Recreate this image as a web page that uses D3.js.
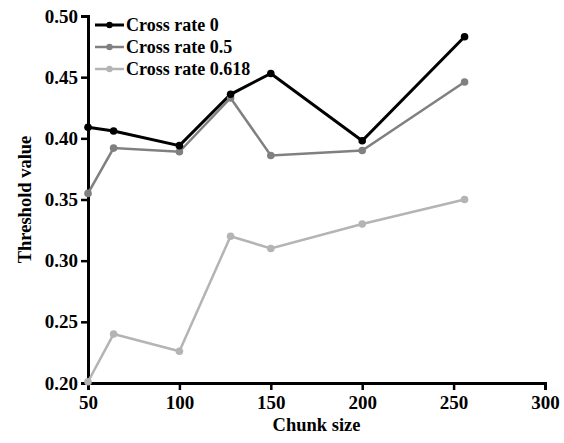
<!DOCTYPE html>
<html>
<head>
<meta charset="utf-8">
<script src="https://cdn.jsdelivr.net/npm/d3@7"></script>
<style>
  body { margin: 0; background: #fff; }
</style>
</head>
<body>
<div id="chart"></div>
<script>
// chunk sizes on the x axis
const chunkSizes = [50, 64, 100, 128, 150, 200, 256];

// threshold values per cross rate
const rate0 = [0.409, 0.406, 0.394, 0.436, 0.453, 0.398, 0.483];
const rate05 = [0.355, 0.392, 0.389, 0.433, 0.386, 0.390, 0.446];
const rate0618 = [0.201, 0.240, 0.226, 0.320, 0.310, 0.330, 0.350];

const seriesNames = ["Cross rate 0", "Cross rate 0.5", "Cross rate 0.618"];
const seriesColors = ["#000000", "#808080", "#b4b4b4"];

const xTicks = [50, 100, 150, 200, 250, 300];
const yTicks = [0.20, 0.25, 0.30, 0.35, 0.40, 0.45, 0.50];

const series = [rate0, rate05, rate0618].map((vals, i) => ({
    name: seriesNames[i],
    color: seriesColors[i],
    points: vals.map((v, j) => ({ x: chunkSizes[j], y: v }))
}));

const width = 564, height = 443;
const margin = { left: 88, right: 19, top: 16, bottom: 60 };
const fontFam = "'Liberation Serif'";

// helper so every text gets the same look
function styleText(sel, size) {
    return sel.style("font-family", fontFam)
        .style("font-weight", "bold")
        .style("font-size", size + "px")
        .attr("fill", "#000");
}

const svg = d3.select("#chart").append("svg")
    .attr("width", width).attr("height", height);

const x = d3.scaleLinear().domain([50, 300]).range([margin.left, width - margin.right]);
const y = d3.scaleLinear().domain([0.20, 0.50]).range([height - margin.bottom, margin.top]);

// axes
const xAxis = svg.append("g")
    .attr("transform", `translate(0,${height - margin.bottom})`)
    .call(d3.axisBottom(x).tickValues(xTicks).tickSize(7).tickPadding(6).tickFormat(d3.format("d")));

const yAxis = svg.append("g")
    .attr("transform", `translate(${margin.left},0)`)
    .call(d3.axisLeft(y).tickValues(yTicks).tickSize(7).tickPadding(3).tickFormat(d3.format(".2f")));

[xAxis, yAxis].forEach(g => {
    g.select(".domain").attr("stroke", "#000").attr("stroke-width", 3);
    g.selectAll(".tick line").attr("stroke", "#000").attr("stroke-width", 2.5);
    styleText(g.selectAll(".tick text"), 19);
});

// axis titles
styleText(svg.append("text"), 18.5)
    .attr("x", (margin.left + width - margin.right) / 2)
    .attr("y", 431)
    .attr("text-anchor", "middle")
    .text("Chunk size");

styleText(svg.append("text"), 18.5)
    .attr("transform", `translate(31,${(margin.top + height - margin.bottom) / 2}) rotate(-90)`)
    .attr("text-anchor", "middle")
    .text("Threshold value");

const line = d3.line().x(d => x(d.x)).y(d => y(d.y));

// draw lighter series first so black sits on top
const drawOrder = series.slice().reverse();

svg.selectAll(".series")
    .data(drawOrder)
    .join("path")
    .attr("class", "series")
    .attr("fill", "none")
    .attr("stroke", d => d.color)
    .attr("stroke-width", (d, i) => i === 2 ? 3 : 2.5)
    .attr("d", d => line(d.points));

svg.selectAll(".dots")
    .data(drawOrder)
    .join("g")
    .attr("class", "dots")
    .attr("fill", d => d.color)
    .selectAll("circle")
    .data(d => d.points)
    .join("circle")
    .attr("cx", d => x(d.x))
    .attr("cy", d => y(d.y))
    .attr("r", 3.8);

// legend
const legend = svg.append("g").attr("transform", "translate(95,25)");
const item = legend.selectAll(".item")
    .data(series)
    .join("g")
    .attr("class", "item")
    .attr("transform", (d, i) => `translate(0,${i * 22})`);

item.append("line")
    .attr("x1", 0).attr("x2", 29)
    .attr("stroke", d => d.color)
    .attr("stroke-width", (d, i) => i === 0 ? 3 : 2.5);
item.append("circle")
    .attr("cx", 14.5).attr("r", 3.2)
    .attr("fill", d => d.color);
styleText(item.append("text"), 18)
    .attr("x", 31).attr("y", 5.5)
    .text(d => d.name);
</script>
</body>
</html>
